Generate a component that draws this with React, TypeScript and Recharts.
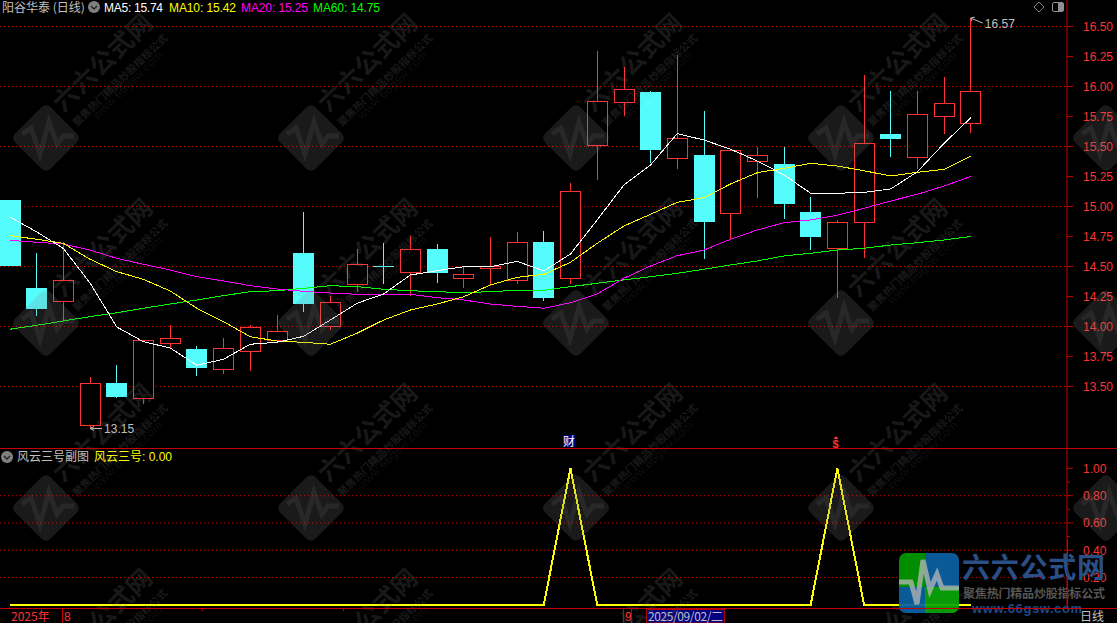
import React from 'react';
import { ComposedChart, Bar, Line, XAxis, YAxis, CartesianGrid, ReferenceDot } from 'recharts';

// daily bars, oldest first
const open = [15.054, 14.321, 14.207, 13.173, 13.529, 13.398, 13.857, 13.8125, 13.64, 13.793, 13.8875, 14.6125, 13.998, 14.348, 14.505, 14.448, 14.646, 14.398, 14.482, 14.382, 14.704, 14.402, 15.507, 15.877, 15.954, 15.398, 15.429, 14.94, 15.373, 15.354, 14.954, 14.648, 14.868, 15.604, 15.41, 15.748, 15.69];
const close = [14.504, 14.146, 14.385, 13.527, 13.413, 13.885, 13.902, 13.657, 13.818, 13.993, 13.96, 14.19, 14.202, 14.518, 14.5, 14.643, 14.446, 14.435, 14.502, 14.702, 14.24, 15.127, 15.877, 15.982, 15.471, 15.568, 14.873, 15.468, 15.427, 15.021, 14.746, 14.868, 15.527, 15.565, 15.768, 15.86, 15.96];
const high = [15.054, 14.61, 14.707, 13.579, 13.679, 13.885, 14.0125, 13.8375, 13.904, 14.01, 14.096, 14.954, 14.254, 14.646, 14.696, 14.754, 14.6875, 14.498, 14.746, 14.7875, 14.796, 15.193, 16.296, 16.1625, 15.9625, 16.2625, 15.796, 15.468, 15.498, 15.496, 15.079, 14.8875, 16.096, 15.9625, 15.9625, 16.079, 16.57];
const low = [14.504, 14.09, 14.054, 13.15, 13.404, 13.354, 13.81, 13.59, 13.607, 13.629, 13.8875, 14.123, 13.97, 14.2875, 14.357, 14.257, 14.365, 14.323, 14.3375, 14.354, 14.215, 14.354, 15.223, 15.757, 15.3625, 15.3125, 14.5625, 14.727, 15.071, 14.896, 14.6375, 14.24, 14.571, 15.415, 15.3125, 15.604, 15.6125];

const ma5 = [14.913, 14.788, 14.65, 14.362, 13.996, 13.873, 13.821, 13.677, 13.727, 13.852, 13.868, 13.918, 14.054, 14.193, 14.271, 14.429, 14.465, 14.498, 14.498, 14.543, 14.463, 14.604, 14.888, 15.179, 15.346, 15.607, 15.554, 15.477, 15.379, 15.263, 15.11, 15.11, 15.118, 15.146, 15.29, 15.527, 15.74];
const ma10 = [14.757, 14.727, 14.693, 14.56, 14.457, 14.393, 14.296, 14.152, 14.04, 13.915, 13.879, 13.868, 13.852, 13.943, 14.054, 14.137, 14.187, 14.248, 14.346, 14.41, 14.435, 14.535, 14.693, 14.837, 14.935, 15.035, 15.073, 15.188, 15.282, 15.318, 15.36, 15.337, 15.298, 15.254, 15.285, 15.31, 15.42];
const ma20 = [14.718, 14.702, 14.687, 14.637, 14.568, 14.518, 14.471, 14.415, 14.379, 14.34, 14.312, 14.293, 14.279, 14.268, 14.268, 14.268, 14.24, 14.221, 14.187, 14.168, 14.152, 14.198, 14.271, 14.402, 14.504, 14.59, 14.637, 14.727, 14.804, 14.865, 14.888, 14.927, 14.985, 15.046, 15.102, 15.171, 15.25];
const ma60 = [13.977, 14.01, 14.046, 14.082, 14.115, 14.152, 14.187, 14.221, 14.257, 14.29, 14.298, 14.318, 14.34, 14.332, 14.31, 14.298, 14.29, 14.282, 14.29, 14.302, 14.302, 14.332, 14.36, 14.388, 14.415, 14.443, 14.477, 14.513, 14.546, 14.588, 14.61, 14.637, 14.652, 14.679, 14.698, 14.721, 14.75];
const signal = [0, 0, 0, 0, 0, 0, 0, 0, 0, 0, 0, 0, 0, 0, 0, 0, 0, 0, 0, 0, 0, 1, 0, 0, 0, 0, 0, 0, 0, 0, 0, 1, 0, 0, 0, 0, 0];

const priceTicks = [13.5, 13.75, 14, 14.25, 14.5, 14.75, 15, 15.25, 15.5, 15.75, 16, 16.25, 16.5];
const priceGrid = [13.5, 14, 14.5, 15, 15.5, 16, 16.5];
const signalTicks = [0.1, 0.2, 0.3, 0.4, 0.5, 0.6, 0.7, 0.8, 0.9, 1];
const signalGrid = [0.2, 0.4, 0.6, 0.8];

const RED = '#ff3232';
const CYAN = '#54fcfc';
const AXIS = '#c80000';
const GRID = '#c80000';
const GREY = '#c0c0c0';

const bars = open.map((o, i) => ({
  i,
  open: o,
  close: close[i],
  high: high[i],
  low: low[i],
  ma5: ma5[i],
  ma10: ma10[i],
  ma20: ma20[i],
  ma60: ma60[i],
  signal: signal[i],
}));

const xDomain: [number, number] = [-0.3747, 39.603];

// candle is a low..high range bar, body is placed inside that pixel span
function Candle(props: any) {
  const { x, y, width, height, payload } = props;
  const d = payload;
  const cx = Math.floor(x + width / 2) + 0.5;
  const k = height / (d.high - d.low);
  const py = (v: number) => y + (d.high - v) * k;
  const up = d.close >= d.open;
  const top = py(Math.max(d.open, d.close));
  const bottom = py(Math.min(d.open, d.close));
  const color = up ? RED : CYAN;
  return (
    <g shapeRendering="crispEdges">
      <line x1={cx} x2={cx} y1={y} y2={top} stroke={color} />
      <line x1={cx} x2={cx} y1={bottom} y2={y + height} stroke={color} />
      {up ? (
        <rect
          x={cx - 10}
          y={Math.round(top) + 0.5}
          width={20}
          height={Math.max(Math.round(bottom - top), 1)}
          fill="#000"
          stroke={RED}
        />
      ) : (
        <rect
          x={cx - 10.5}
          y={Math.round(top)}
          width={21}
          height={Math.max(Math.round(bottom - top), 1)}
          fill={CYAN}
        />
      )}
    </g>
  );
}

function AxisTick(props: any) {
  const { y, payload, digits, minorCheck } = props;
  const minor = minorCheck && minorCheck(payload.value);
  return (
    <g>
      <line x1={1067} x2={minor ? 1070 : 1073} y1={y} y2={y} stroke={AXIS} />
      {!minor && (
        <text x={1083} y={y + 4.5} fill={RED} fontSize={12} fontFamily="Liberation Sans">
          {payload.value.toFixed(digits)}
        </text>
      )}
    </g>
  );
}

function PriceChart() {
  return (
    <ComposedChart width={1117} height={449} data={bars} margin={{ top: 0, right: 0, bottom: 0, left: 0 }}>
      <CartesianGrid vertical={false} horizontalValues={priceGrid} stroke={GRID} strokeDasharray="1 3" />
      <XAxis dataKey="i" type="number" domain={xDomain} hide />
      <YAxis
        orientation="right"
        width={50}
        domain={[12.979, 16.7208]}
        ticks={priceTicks}
        interval={0}
        axisLine={{ stroke: AXIS }}
        tickLine={false}
        tick={(p: any) => <AxisTick {...p} digits={2} />}
      />
      <Bar dataKey={(d: any) => [d.low, d.high]} barSize={21} shape={Candle} isAnimationActive={false} />
      <Line dataKey="ma60" stroke="#00ff00" shapeRendering="crispEdges" dot={false} activeDot={false} isAnimationActive={false} type="linear" />
      <Line dataKey="ma20" stroke="#ff00ff" shapeRendering="crispEdges" dot={false} activeDot={false} isAnimationActive={false} type="linear" />
      <Line dataKey="ma10" stroke="#ffff00" shapeRendering="crispEdges" dot={false} activeDot={false} isAnimationActive={false} type="linear" />
      <Line dataKey="ma5" stroke="#ffffff" shapeRendering="crispEdges" dot={false} activeDot={false} isAnimationActive={false} type="linear" />
      <ReferenceDot
        x={3}
        y={13.15}
        shape={(p: any) => (
          <g>
            <path d={`M${p.cx} ${p.cy}h12M${p.cx + 4} ${p.cy - 2}l-4 2 4 2`} stroke={GREY} fill="none" />
            <text x={p.cx + 14} y={p.cy + 4.5} fill={GREY} fontSize={12} fontFamily="Liberation Sans">13.15</text>
          </g>
        )}
      />
      <ReferenceDot
        x={36}
        y={16.57}
        shape={(p: any) => (
          <g>
            <path d={`M${p.cx} ${p.cy}l12 5M${p.cx + 1} ${p.cy + 3}l-1 -3 4 -1`} stroke={GREY} fill="none" />
            <text x={p.cx + 14} y={p.cy + 9.5} fill={GREY} fontSize={12} fontFamily="Liberation Sans">16.57</text>
          </g>
        )}
      />
    </ComposedChart>
  );
}

function SignalChart() {
  return (
    <ComposedChart width={1117} height={159} data={bars} margin={{ top: 0, right: 0, bottom: 0, left: 0 }}>
      <CartesianGrid vertical={false} horizontalValues={signalGrid} stroke={GRID} strokeDasharray="1 3" />
      <XAxis dataKey="i" type="number" domain={xDomain} hide />
      <YAxis
        orientation="right"
        width={50}
        domain={[-0.0235, 1.1422]}
        ticks={signalTicks}
        interval={0}
        axisLine={{ stroke: AXIS }}
        tickLine={false}
        tick={(p: any) => (
          <AxisTick {...p} digits={2} minorCheck={(v: number) => Math.round(v * 10) % 2 === 1} />
        )}
      />
      <Line dataKey="signal" stroke="#ffff00" strokeWidth={2} shapeRendering="crispEdges" dot={false} activeDot={false} isAnimationActive={false} type="linear" />
    </ComposedChart>
  );
}

// site watermark, tiled over everything
const wmCols = [46, 311, 576, 841, 1106];
const wmRows = [138, 323, 508, 693];

function Watermark({ cx, cy }: { cx: number; cy: number }) {
  const font = 'Noto Sans CJK SC';
  return (
    <g transform={`translate(${cx} ${cy})`} fill="#808080" fillOpacity={0.2}>
      <rect x={-25} y={-25} width={50} height={50} rx={6} transform="rotate(45)" />
      <polyline
        points="-24,-4 -15,-10 -6,16 3,-16 11,6 17,-2 28,-2"
        fill="none"
        stroke="#808080"
        strokeOpacity={0.14}
        strokeWidth={5}
      />
      {cx + 17 < 1117 && (
        <g>
          <g transform="translate(17 -25) rotate(-44)">
            <text fontSize={25} fontWeight={700} fontFamily={font} textLength={127}>六六公式网</text>
          </g>
          <g transform="translate(31 -11) rotate(-44)">
            <text fontSize={10.5} fontWeight={700} fontFamily={font} textLength={127}>聚焦热门精品炒股指标公式</text>
          </g>
          <g transform="translate(51 -18) rotate(-44)" fillOpacity={0.13}>
            <text fontSize={12} fontFamily="Liberation Sans" textLength={92}>www.66gsw.com</text>
          </g>
        </g>
      )}
    </g>
  );
}

function Chevron({ cx, cy }: { cx: number; cy: number }) {
  return (
    <g>
      <circle cx={cx} cy={cy} r={6} fill="#808080" />
      <path d={`M${cx - 3} ${cy - 1}l3 3 3 -3`} fill="none" stroke="#222" strokeWidth={1.4} />
    </g>
  );
}

function Overlay() {
  const cjk = 'Noto Sans CJK SC';
  const num = 'Liberation Sans';
  const legend = [
    { label: `MA5: ${ma5[36].toFixed(2)}`, x: 104, len: 59, color: '#ffffff' },
    { label: `MA10: ${ma10[36].toFixed(2)}`, x: 169, len: 67, color: '#ffff00' },
    { label: `MA20: ${ma20[36].toFixed(2)}`, x: 241, len: 67, color: '#ff00ff' },
    { label: `MA60: ${ma60[36].toFixed(2)}`, x: 313, len: 67, color: '#00ff00' },
  ];
  return (
    <svg width={1117} height={623} style={{ position: 'absolute', left: 0, top: 0, pointerEvents: 'none' }}>
      {/* header */}
      <text x={2} y={12} fill={GREY} fontSize={12} fontFamily={cjk}>阳谷华泰 (日线)</text>
      <Chevron cx={94} cy={7} />
      {legend.map((l) => (
        <text key={l.label} x={l.x} y={12} fill={l.color} fontSize={12} fontFamily={num} textLength={l.len}>
          {l.label}
        </text>
      ))}
      <path d="M1039 2l5 5 -5 5 -5 -5z" fill="none" stroke="#808080" />
      <rect x={1052.5} y={2.5} width={11} height={9} rx={1.5} fill="none" stroke="#909090" />
      <rect x={1058} y={3} width={5} height={8} fill="#909090" />

      {/* sub panel title */}
      <Chevron cx={7} cy={457} />
      <text x={17} y={461} fill={GREY} fontSize={12} fontFamily={cjk}>风云三号副图</text>
      <text x={94} y={461} fill="#ffff00" fontSize={12} fontFamily={cjk}>风云三号</text>
      <text x={142} y={461} fill="#ffff00" fontSize={12} fontFamily={num} textLength={30}>: 0.00</text>

      {/* event markers */}
      <rect x={563} y={435} width={12} height={12} fill="#000080" />
      <text x={563} y={445.5} fill="#ffffff" fontSize={12} fontFamily={cjk}>财</text>
      <path d="M836 436l2.5 3h-5z" fill={RED} />
      <text x={832.5} y={447.5} fill={RED} fontSize={11} fontWeight={700} fontFamily={num}>$</text>

      {/* time bar */}
      <text x={11} y={621} fill={RED} fontSize={12} fontFamily={cjk}>2025年</text>
      <text x={64} y={621} fill={RED} fontSize={12} fontFamily={num}>8</text>
      <text x={625} y={621} fill={RED} fontSize={12} fontFamily={num}>9</text>
      <rect x={646.5} y={609.5} width={78} height={13.5} fill="#000080" stroke="#b00000" />
      <text x={648} y={620.5} fill={GREY} fontSize={12} fontFamily={cjk} textLength={75}>2025/09/02/二</text>
      <text x={1080} y={621} fill={GREY} fontSize={12} fontFamily={cjk}>日线</text>

      {wmRows.map((cy) => wmCols.map((cx) => <Watermark key={`${cx}-${cy}`} cx={cx} cy={cy} />))}

      {/* corner logo */}
      <clipPath id="logoClip">
        <rect x={899} y={553} width={60} height={60} rx={7} />
      </clipPath>
      <g clipPath="url(#logoClip)" opacity={0.92}>
        <rect x={899} y={553} width={26} height={34} fill="#009a00" />
        <rect x={925} y={553} width={34} height={34} fill="#0a62a4" />
        <rect x={899} y={587} width={26} height={26} fill="#0a62a4" />
        <rect x={925} y={587} width={34} height={26} fill="#09a809" />
        <polyline
          points="899,582 911,582 917,604 923,560 930,590 937,574 942,588 959,588"
          fill="none"
          stroke="#c8c8c8"
          strokeOpacity={0.75}
          strokeWidth={5}
        />
      </g>
      <text x={962} y={578} fill="#2a4f86" fontSize={28} fontWeight={700} fontFamily={cjk} textLength={143}>六六公式网</text>
      <text x={963} y={598} fill="#555555" fontSize={12} fontWeight={700} fontFamily={cjk} textLength={142}>聚焦热门精品炒股指标公式</text>
      <text x={972} y={613} fill="#1f4a8a" fontSize={13} fontWeight={700} fontFamily={num} textLength={110}>www.66gsw.com</text>

      {/* panel borders, on top of the logo */}
      <g shapeRendering="crispEdges" stroke={AXIS}>
        <line x1={0} x2={1117} y1={448.5} y2={448.5} />
        <line x1={0} x2={1117} y1={608.5} y2={608.5} />
        <line x1={62.5} x2={62.5} y1={609} y2={623} />
        <line x1={623.5} x2={623.5} y1={609} y2={623} />
        <line x1={631.5} x2={631.5} y1={609} y2={623} />
        <line x1={202.5} x2={202.5} y1={609} y2={611} />
        <line x1={343.5} x2={343.5} y1={609} y2={611} />
        <line x1={1067.5} x2={1067.5} y1={540} y2={608} />
      </g>
    </svg>
  );
}

export default function App() {
  return (
    <div style={{ position: 'absolute', left: 0, top: 0, width: 1117, height: 623, background: '#000', overflow: 'hidden' }}>
      <div style={{ position: 'absolute', left: 0, top: 0 }}>
        <PriceChart />
      </div>
      <div style={{ position: 'absolute', left: 0, top: 449 }}>
        <SignalChart />
      </div>
      <Overlay />
    </div>
  );
}
